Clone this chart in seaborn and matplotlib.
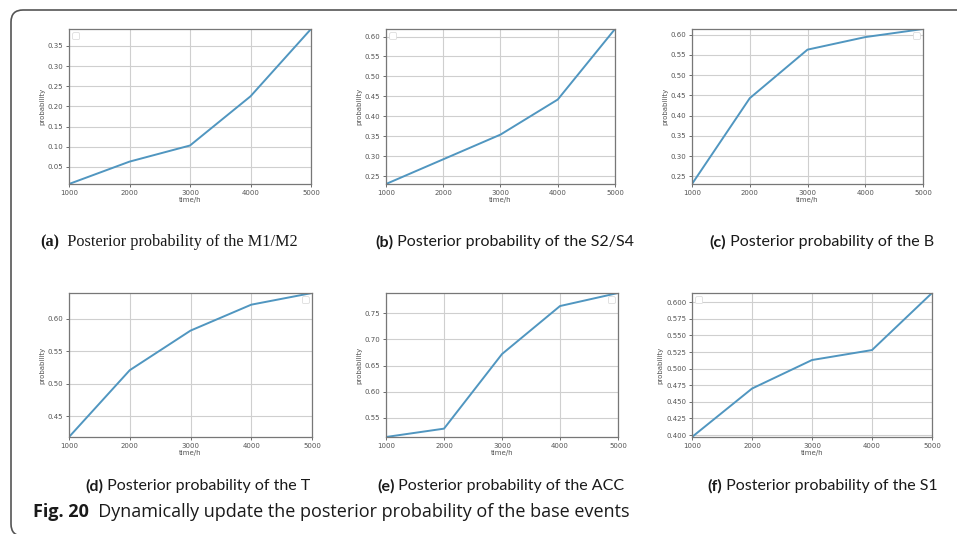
import numpy as np
import pandas as pd
import matplotlib
matplotlib.use("Agg")
import matplotlib.pyplot as plt
import seaborn as sns
from matplotlib.patches import FancyBboxPatch
from matplotlib.ticker import MultipleLocator, FormatStrFormatter

# data
times = [1000, 2000, 3000, 4000, 5000]
p_m1m2 = [0.0075, 0.063, 0.103, 0.225, 0.392]
p_s2s4 = [0.230, 0.292, 0.354, 0.442, 0.619]
p_b = [0.231, 0.443, 0.563, 0.594, 0.614]
p_t = [0.418, 0.521, 0.582, 0.622, 0.640]
p_acc = [0.513, 0.529, 0.672, 0.764, 0.789]
p_s1 = [0.397, 0.470, 0.513, 0.528, 0.614]

panel_tags = ["(a)", "(b)", "(c)", "(d)", "(e)", "(f)"]
panel_names = ["M1/M2", "S2/S4", "B", "T", "ACC", "S1"]
series = [p_m1m2, p_s2s4, p_b, p_t, p_acc, p_s1]

sns.set_style("whitegrid")
plt.rcParams["font.family"] = ["DejaVu Sans"]

W, H = 957, 534
fig = plt.figure(figsize=(W / 100, H / 100), dpi=100)


def px_axes(left, top, right, bottom):
    # pixel box -> figure fraction
    return [left / W, 1 - bottom / H, (right - left) / W, (bottom - top) / H]


# axes boxes in pixels: left, top, right, bottom
boxes = [
    (69, 29, 311, 184),
    (386, 29, 615, 184),
    (692, 29, 923, 184),
    (69, 293, 312, 437),
    (386, 293, 618, 437),
    (692, 293, 932, 437),
]
steps = [0.05, 0.05, 0.05, 0.05, 0.05, 0.025]
fmts = ["%.2f", "%.2f", "%.2f", "%.2f", "%.2f", "%.3f"]
legend_locs = ["upper left", "upper left", "upper right",
               "upper right", "upper right", "upper left"]

line_color = "#5096c0"

for i, vals in enumerate(series):
    ax = fig.add_axes(px_axes(*boxes[i]))
    df = pd.DataFrame({"time/h": times, "probability": vals})
    sns.lineplot(data=df, x="time/h", y="probability", ax=ax,
                 color=line_color, linewidth=1.4)
    ax.set_xlim(times[0], times[-1])
    ax.set_ylim(min(vals), max(vals))
    ax.xaxis.set_major_locator(MultipleLocator(1000))
    ax.yaxis.set_major_locator(MultipleLocator(steps[i]))
    ax.yaxis.set_major_formatter(FormatStrFormatter(fmts[i]))
    ax.grid(True, color="#cfcfcf", linewidth=0.8)
    for sp in ax.spines.values():
        sp.set_color("#777777")
        sp.set_linewidth(0.9)
    ax.tick_params(axis="both", labelsize=5, colors="#555555",
                   length=2, width=0.6, pad=2, left=True, bottom=True)
    ax.set_xlabel("time/h", fontsize=5, color="#555555", labelpad=1)
    ax.set_ylabel("probability", fontsize=5, color="#555555", labelpad=2)
    leg = ax.legend(handles=[], loc=legend_locs[i], fontsize=5,
                    borderpad=0.5, framealpha=1)
    leg.get_frame().set_edgecolor("#dddddd")
    leg.get_frame().set_linewidth(0.6)

# sub captions
cap_pos = [(40, 242), (375, 242), (709, 242), (85, 486), (377, 486), (707, 486)]
for i, (cx, cy) in enumerate(cap_pos):
    if i == 0:
        fam, size = "Liberation Serif", 11.7
        rest = "  Posterior probability of the " + panel_names[i]
    else:
        fam, size = "Lato", 11.5
        rest = " Posterior probability of the " + panel_names[i]
    t = fig.text(cx / W, 1 - cy / H, panel_tags[i], fontsize=size,
                 fontweight="bold", family=fam, va="center", ha="left",
                 color="#1a1a1a")
    plt.annotate(rest, xy=(1, 0.5), xycoords=t, va="center", ha="left",
                 fontsize=size, family=fam, color="#1a1a1a",
                 annotation_clip=False)

# figure caption
ft = fig.text(33 / W, 1 - 512 / H, "Fig. 20", fontsize=13, fontweight="bold",
              family="Open Sans", va="center", ha="left", color="#1a1a1a")
plt.annotate("  Dynamically update the posterior probability of the base events",
             xy=(1, 0.5), xycoords=ft, va="center", ha="left", fontsize=13,
             family="Open Sans", color="#1a1a1a", annotation_clip=False)

# rounded frame, open to the right, curving at the bottom left
frame = FancyBboxPatch((11, -2), 1000, H - 10 + 2,
                       boxstyle="round,pad=0,rounding_size=12",
                       transform=None, fill=False, edgecolor="#555555",
                       linewidth=1.2, clip_on=False)
fig.patches.append(frame)

fig.savefig("out.png", dpi=100)
